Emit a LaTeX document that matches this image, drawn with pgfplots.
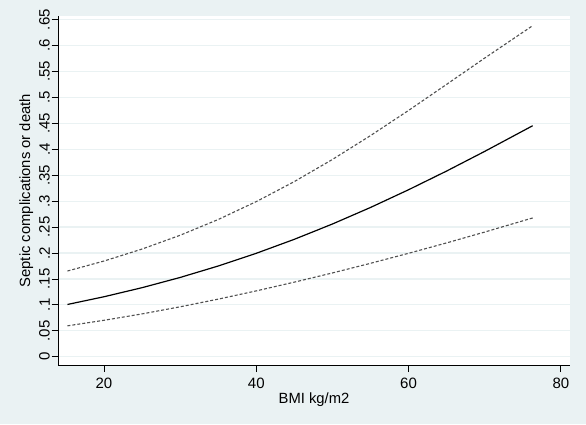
\documentclass[border=0pt]{standalone}
\usepackage{pgfplots}
\pgfplotsset{compat=1.18}
\usepackage{fontspec}
\setmainfont{Liberation Sans}
\definecolor{bgcol}{RGB}{234,242,243}
\definecolor{gridcol}{RGB}{234,242,243}
\definecolor{cicol}{RGB}{80,80,80}
\begin{document}
\begin{tikzpicture}
\path[use as bounding box, fill=bgcol] (0,0) rectangle (586pt,424pt);
\begin{axis}[
  at={(58pt,58.3pt)}, anchor=south west,
  scale only axis, width=512pt, height=350pt,
  xmin=13.96, xmax=81.2, ymin=-0.0174, ymax=0.6577,
  axis x line*=bottom, axis y line*=left,
  axis line style={black, line width=0.9pt},
  axis background/.style={fill=white},
  xtick={20,40,60,80}, xticklabels={20,40,60,80},
  ytick={0,0.05,0.1,0.15,0.2,0.25,0.3,0.35,0.4,0.45,0.5,0.55,0.6,0.65},
  yticklabels={0,.05,.1,.15,.2,.25,.3,.35,.4,.45,.5,.55,.6,.65},
  minor tick num=0,
  tick align=outside, major tick length=6.5pt,
  tick style={black, line width=0.8pt},
  ymajorgrids, grid style={gridcol, line width=1.2pt},
  /pgf/number format/assume math mode=true,
  ticklabel style={font=\fontsize{15}{17}\selectfont, inner sep=0pt},
  yticklabel style={rotate=90, anchor=south},
  yticklabel shift=1.5pt,
  xticklabel style={anchor=north},
  xticklabel shift=5.5pt,
  label style={font=\fontsize{14.8}{17}\selectfont, inner sep=0pt},
  xlabel={BMI kg/m2},
  ylabel={Septic complications or death},
  xlabel style={at={([yshift=-37.8pt]axis description cs:0.5,0)}, anchor=base},
  ylabel style={at={([xshift=-24.5pt]axis description cs:0,0.5)}, anchor=south, rotate=0},
  clip=false,
]
\addplot[cicol, line width=1.1pt, dash pattern=on 3pt off 2pt] coordinates {
(15.2,0.1652) (20,0.1845) (25,0.2076) (30,0.2342) (35,0.2646) (40,0.2991)
(45,0.3378) (50,0.3804) (55,0.4264) (60,0.4750) (65,0.5253) (70,0.5760) (76.3,0.6385)};
\addplot[cicol, line width=1.1pt, dash pattern=on 3pt off 2pt] coordinates {
(15.2,0.0595) (20,0.0702) (25,0.0825) (30,0.0962) (35,0.1110) (40,0.1269)
(45,0.1438) (50,0.1615) (55,0.1801) (60,0.1994) (65,0.2195) (70,0.2404) (76.3,0.2676)};
\addplot[black, line width=1.2pt] coordinates {
(15.2,0.1007) (20,0.1156) (25,0.1331) (30,0.1528) (35,0.1749) (40,0.1994)
(45,0.2264) (50,0.2559) (55,0.2878) (60,0.3220) (65,0.3581) (70,0.3960) (76.3,0.4455)};
\end{axis}
\end{tikzpicture}
\end{document}
